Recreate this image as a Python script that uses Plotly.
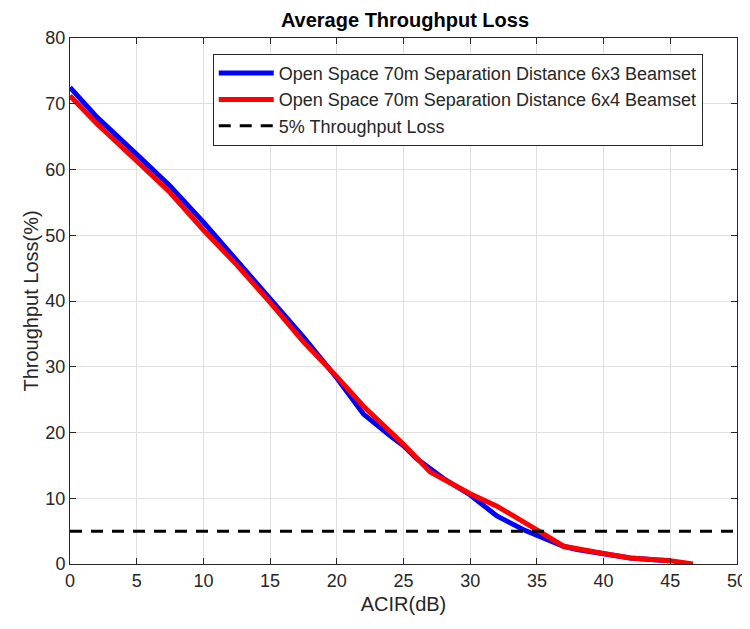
import plotly.graph_objects as go

# ACIR (dB) vs throughput loss (%)
acir_6x3 = [0, 2, 5, 7.5, 10, 12.5, 15, 17.5, 20, 22, 24, 25, 26, 28, 30, 32, 34, 35, 36, 37, 38, 40, 42, 44, 45]
loss_6x3 = [72.5, 68, 62.3, 57.5, 52, 46.2, 40.5, 34.5, 28.3, 22.8, 19.5, 18, 16, 13, 10.5, 7.3, 5.2, 4.3, 3.4, 2.7, 2.2, 1.5, 0.9, 0.6, 0.5]

acir_6x4 = [0, 2, 5, 7.5, 10, 12.5, 15, 17.5, 20, 22, 25, 27, 30, 32, 35, 37, 40, 42, 45, 46.7]
loss_6x4 = [71.2, 67, 61.3, 56.5, 50.8, 45.5, 39.8, 33.8, 28.5, 24, 18.2, 14, 10.7, 8.8, 5.2, 2.7, 1.6, 0.9, 0.5, 0.0]

limit_x = [0, 50]
limit_y = [5, 5]

fig = go.Figure()
fig.add_trace(go.Scatter(x=acir_6x3, y=loss_6x3, mode="lines",
                         name="Open Space 70m Separation Distance 6x3 Beamset",
                         line=dict(color="#0000ff", width=5)))
fig.add_trace(go.Scatter(x=acir_6x4, y=loss_6x4, mode="lines",
                         name="Open Space 70m Separation Distance 6x4 Beamset",
                         line=dict(color="#ff0000", width=5)))
fig.add_trace(go.Scatter(x=limit_x, y=limit_y, mode="lines",
                         name="5% Throughput Loss",
                         line=dict(color="black", width=3, dash="12px,9px")))

axis_style = dict(showline=True, linecolor="#262626", linewidth=1, mirror="ticks",
                  ticks="inside", ticklen=6, tickcolor="#262626", automargin=False,
                  showgrid=True, gridcolor="#dfdfdf", gridwidth=1, zeroline=False,
                  tickfont=dict(size=18, color="#262626"))

fig.update_xaxes(range=[0, 50], dtick=5,
                 title=dict(text="ACIR(dB)", font=dict(size=20, color="#262626"), standoff=7),
                 **axis_style)
fig.update_yaxes(range=[0, 80], dtick=10,
                 title=dict(text="Throughput Loss(%)", font=dict(size=20, color="#262626"), standoff=1),
                 **axis_style)

# page body adds an 8px offset, so the figure is a little smaller than the window
fig.update_layout(
    width=742, height=621,
    margin=dict(l=62, r=13, t=30, b=65),
    plot_bgcolor="white", paper_bgcolor="white",
    font=dict(family="Liberation Sans, Arial, sans-serif", color="#262626"),
    title=dict(text="<b>Average Throughput Loss</b>", x=0.535, xanchor="center", y=0.981, yanchor="middle",
               font=dict(size=20, color="black")),
    legend=dict(x=0.214, y=0.97, xanchor="left", yanchor="top",
                bgcolor="white", bordercolor="#262626", borderwidth=1, itemwidth=55,
                font=dict(size=18, color="#262626"), tracegroupgap=0),
    showlegend=True,
)

fig.write_html("out.html")
